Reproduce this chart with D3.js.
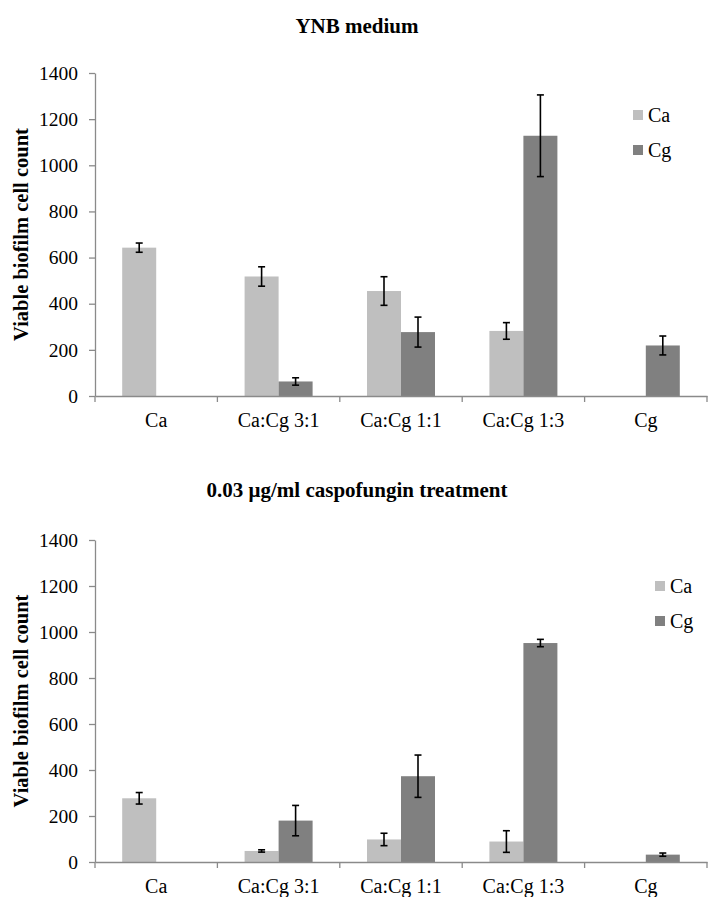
<!DOCTYPE html>
<html><head><meta charset="utf-8">
<script src="https://cdn.jsdelivr.net/npm/d3@7"></script>
<style>
html,body{margin:0;padding:0;background:#fff;}
svg{display:block;}
text{font-family:"Liberation Serif","Times New Roman","DejaVu Serif",serif;fill:#000;}
</style></head>
<body>
<svg id="chart" width="712" height="897"></svg>
<script>
const categories = ["Ca", "Ca:Cg 3:1", "Ca:Cg 1:1", "Ca:Cg 1:3", "Cg"];
const seriesNames = ["Ca", "Cg"];
const yTicks = [0, 200, 400, 600, 800, 1000, 1200, 1400];

// YNB medium
const ynbCa    = [643, 518, 455, 282, null];
const ynbCaErr = [20, 42, 62, 36, null];
const ynbCg    = [null, 63, 277, 1128, 219];
const ynbCgErr = [null, 16, 65, 177, 41];

// 0.03 µg/ml caspofungin
const caspoCa    = [277, 48, 98, 89, null];
const caspoCaErr = [25, 5, 27, 47, null];
const caspoCg    = [null, 180, 373, 952, 32];
const caspoCgErr = [null, 66, 92, 16, 7];

const colors = {Ca: "#bfbfbf", Cg: "#808080"};
const axisColor = "#8a8a8a";
const serif = '"Liberation Serif","Times New Roman","DejaVu Serif",serif';

const svg = d3.select("#chart");

function drawPanel(opt) {
  const g = svg.append("g");
  const x = d3.scaleBand().domain(categories).range([opt.left, opt.right]).padding(0);
  const xs = d3.scaleBand().domain(seriesNames).range([0, x.bandwidth()]).paddingInner(0).paddingOuter(0.8);
  const y = d3.scaleLinear().domain([0, 1400]).range([opt.bottom, opt.top]);

  // title
  g.append("text").attr("x", 357).attr("y", opt.titleY).attr("text-anchor", "middle")
    .attr("font-size", 21).attr("font-weight", "bold").text(opt.title);

  // y axis label
  const cy = (opt.top + opt.bottom) / 2;
  g.append("text").attr("transform", `translate(28,${cy}) rotate(-90)`)
    .attr("text-anchor", "middle").attr("font-size", 20.5).attr("font-weight", "bold")
    .text("Viable biofilm cell count");

  // y axis
  const ya = g.append("g").attr("transform", `translate(${opt.left},0)`)
    .call(d3.axisLeft(y).tickValues(yTicks).tickFormat(d3.format("d")).tickSize(6).tickSizeOuter(0).tickPadding(11));
  ya.attr("font-family", serif);
  ya.select(".domain").attr("stroke", axisColor).attr("stroke-width", 1.3);
  ya.selectAll(".tick line").attr("stroke", axisColor).attr("stroke-width", 1.3);
  ya.selectAll(".tick text").attr("font-size", 19.5).attr("fill", "#000");

  // bars
  const data = [];
  categories.forEach((c, i) => {
    [["Ca", opt.ca[i], opt.caErr[i]], ["Cg", opt.cg[i], opt.cgErr[i]]].forEach(([s, v, e]) => {
      if (v !== null) data.push({cat: c, s, v, e});
    });
  });
  g.selectAll("rect.bar").data(data).enter().append("rect").attr("class", "bar")
    .attr("x", d => x(d.cat) + xs(d.s)).attr("width", xs.bandwidth())
    .attr("y", d => y(d.v)).attr("height", d => y(0) - y(d.v))
    .attr("fill", d => colors[d.s]);

  // x axis
  const xa = g.append("g").attr("transform", `translate(0,${opt.bottom})`)
    .call(d3.axisBottom(x).tickSize(0).tickPadding(17).tickSizeOuter(0));
  xa.attr("font-family", serif);
  xa.select(".domain").attr("stroke", axisColor).attr("stroke-width", 1.3);
  xa.selectAll(".tick text").attr("font-size", 20).attr("fill", "#000");
  const bounds = categories.map(c => x(c)).concat([x(categories[categories.length - 1]) + x.bandwidth()]);
  xa.selectAll("line.bt").data(bounds).enter().append("line").attr("class", "bt")
    .attr("x1", d => d).attr("x2", d => d).attr("y1", 0).attr("y2", 6)
    .attr("stroke", axisColor).attr("stroke-width", 1.3);

  // error bars
  const eb = g.selectAll("g.err").data(data).enter().append("g").attr("class", "err");
  const cx = d => x(d.cat) + xs(d.s) + xs.bandwidth() / 2;
  eb.append("line").attr("x1", cx).attr("x2", cx).attr("y1", d => y(d.v + d.e)).attr("y2", d => y(d.v - d.e))
    .attr("stroke", "#000").attr("stroke-width", 1.6);
  eb.append("line").attr("x1", d => cx(d) - 3.5).attr("x2", d => cx(d) + 3.5)
    .attr("y1", d => y(d.v + d.e)).attr("y2", d => y(d.v + d.e)).attr("stroke", "#000").attr("stroke-width", 1.6);
  eb.append("line").attr("x1", d => cx(d) - 3.5).attr("x2", d => cx(d) + 3.5)
    .attr("y1", d => y(d.v - d.e)).attr("y2", d => y(d.v - d.e)).attr("stroke", "#000").attr("stroke-width", 1.6);

  // legend
  const lg = g.append("g").attr("transform", `translate(${opt.legX},${opt.legY})`);
  seriesNames.forEach((s, i) => {
    lg.append("rect").attr("x", 0).attr("y", i * 35 - 5).attr("width", 10).attr("height", 10).attr("fill", colors[s]);
    lg.append("text").attr("x", 15).attr("y", i * 35 + 7).attr("font-size", 20).text(s);
  });
}

drawPanel({title: "YNB medium", titleY: 33, left: 95, right: 707, top: 73, bottom: 396,
  ca: ynbCa, caErr: ynbCaErr, cg: ynbCg, cgErr: ynbCgErr, legX: 633, legY: 115});
drawPanel({title: "0.03 μg/ml caspofungin treatment", titleY: 497, left: 95, right: 707, top: 540, bottom: 862,
  ca: caspoCa, caErr: caspoCaErr, cg: caspoCg, cgErr: caspoCgErr, legX: 655, legY: 586});
</script>
</body></html>
